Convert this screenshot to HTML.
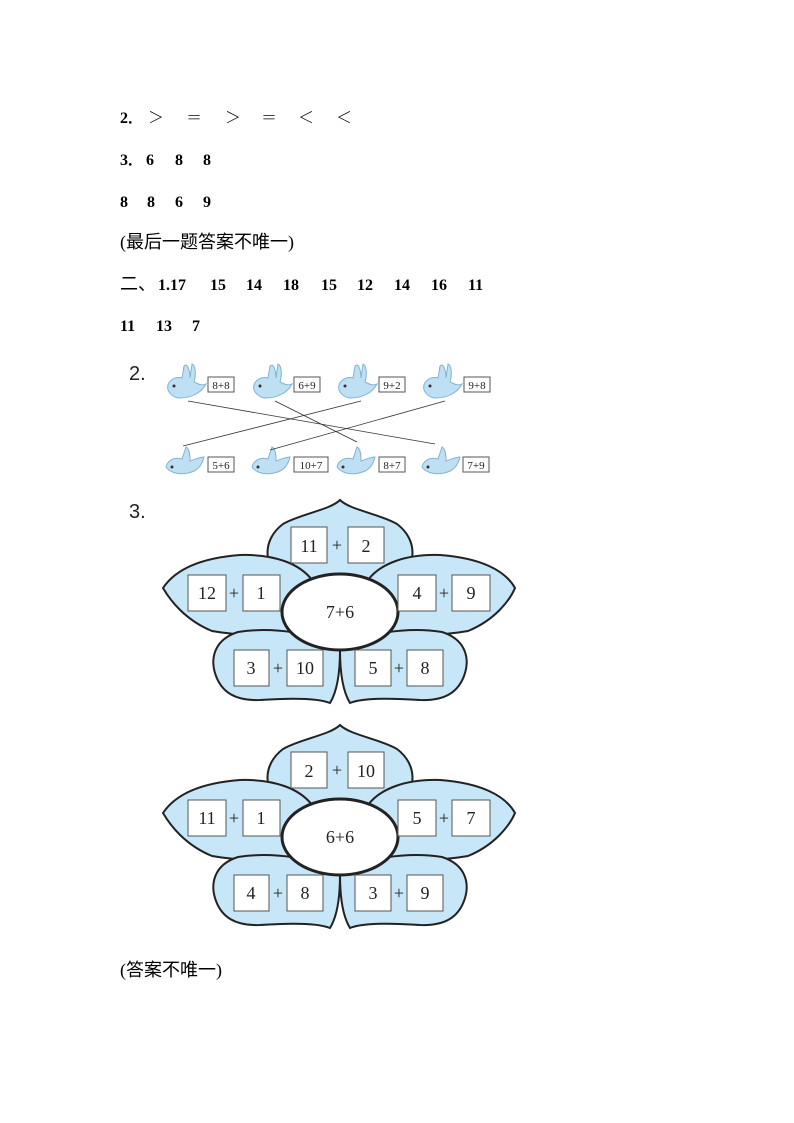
<!DOCTYPE html>
<html><head><meta charset="utf-8"><style>
html,body{margin:0;padding:0;background:#fff;}
body{width:794px;height:1123px;position:relative;overflow:hidden;}
svg{position:absolute;left:0;top:0;}
.t{font-family:"Liberation Serif","Noto Serif CJK SC",serif;font-size:16px;font-weight:bold;fill:#000;}
.c{font-family:"Liberation Serif","Noto Sans CJK SC",sans-serif;font-size:18px;fill:#000;}
.n{font-family:"Liberation Serif",serif;font-size:18px;fill:#222;text-anchor:middle;}
.s{font-family:"Liberation Serif",serif;font-size:11px;fill:#222;text-anchor:middle;}
</style></head><body>
<svg width="794" height="1123" viewBox="0 0 794 1123">
<defs>
<g id="bird1">
<path d="M-12,10 C-14,2 -6,-4 2,-2 L4,-14 C8,-18 10,-8 10,-2 L12,-16 C16,-14 16,-4 14,2 C18,4 22,6 26,4 C22,12 12,18 0,18 C-6,18 -10,14 -12,10Z" fill="#bfe0f2" stroke="#7fb3d5" stroke-width="1"/>
<circle cx="-6" cy="6" r="1.5" fill="#333"/>
</g>
<g id="bird2">
<path d="M-14,12 C-12,4 -4,2 2,4 L6,-8 C10,-6 10,2 10,6 C16,4 20,2 24,2 C22,10 18,16 8,18 C0,20 -10,18 -14,12Z" fill="#bfe0f2" stroke="#7fb3d5" stroke-width="1"/>
<circle cx="-8" cy="12" r="1.5" fill="#333"/>
</g>
<g id="petals">
<path d="M340,500 C330,510 300,514 283,524 C262,540 262,566 285,585 L395,585 C418,566 418,540 397,524 C380,514 350,510 340,500Z" fill="#c7e6f7" stroke="#222" stroke-width="2"/>
<path d="M163,588 C175,570 200,558 240,555 C275,554 300,564 312,580 L302,632 C270,636 240,636 212,631 C185,620 170,600 163,588Z" fill="#c7e6f7" stroke="#222" stroke-width="2"/>
<path d="M515,588 C505,570 480,558 440,555 C405,554 380,564 368,580 L378,632 C410,636 440,636 468,631 C495,620 510,600 515,588Z" fill="#c7e6f7" stroke="#222" stroke-width="2"/>
<path d="M340,650 C320,632 270,627 238,632 C213,640 210,660 216,676 C222,692 235,701 260,700 C290,698 318,698 330,703 C338,690 340,670 340,650Z" fill="#c7e6f7" stroke="#222" stroke-width="2"/>
<path d="M340,650 C360,632 410,627 442,632 C467,640 470,660 464,676 C458,692 445,701 420,700 C390,698 362,698 350,703 C342,690 340,670 340,650Z" fill="#c7e6f7" stroke="#222" stroke-width="2"/>
<ellipse cx="340" cy="612" rx="58" ry="38" fill="#fff" stroke="#222" stroke-width="3"/>
<g fill="#fff" stroke="#555" stroke-width="1">
<rect x="291" y="527" width="36" height="36"/><rect x="348" y="527" width="36" height="36"/>
<rect x="188" y="575" width="38" height="36"/><rect x="243" y="575" width="37" height="36"/>
<rect x="398" y="575" width="38" height="36"/><rect x="452" y="575" width="38" height="36"/>
<rect x="234" y="650" width="35" height="36"/><rect x="287" y="650" width="36" height="36"/>
<rect x="355" y="650" width="36" height="36"/><rect x="407" y="650" width="36" height="36"/>
</g>
<g class="n"><text x="337" y="551">+</text><text x="234" y="599">+</text><text x="444" y="599">+</text><text x="278" y="674">+</text><text x="399" y="674">+</text></g>
</g>
</defs>
<g class="t">
<text x="120" y="123">2．</text><text x="148" y="123">＞</text><text x="186" y="123">＝</text><text x="225" y="123">＞</text><text x="261" y="123">＝</text><text x="298" y="123">＜</text><text x="336" y="123">＜</text>
<text x="120" y="165">3．</text><text x="146" y="165">6</text><text x="175" y="165">8</text><text x="203" y="165">8</text>
<text x="120" y="207">8</text><text x="147" y="207">8</text><text x="175" y="207">6</text><text x="203" y="207">9</text>
<text x="158" y="290">1.17</text><text x="210" y="290">15</text><text x="246" y="290">14</text><text x="283" y="290">18</text><text x="321" y="290">15</text><text x="357" y="290">12</text><text x="394" y="290">14</text><text x="431" y="290">16</text><text x="468" y="290">11</text>
<text x="120" y="331">11</text><text x="156" y="331">13</text><text x="192" y="331">7</text>
</g>
<text class="c" x="120" y="248">(最后一题答案不唯一)</text>
<text class="c" x="120" y="290">二、</text>
<text x="129" y="380" font-family="Liberation Sans,sans-serif" font-size="20" fill="#222">2.</text>
<use href="#bird1" x="180" y="380"/><use href="#bird1" x="266" y="380"/><use href="#bird1" x="351" y="380"/><use href="#bird1" x="436" y="380"/>
<use href="#bird2" x="180" y="455"/><use href="#bird2" x="266" y="455"/><use href="#bird2" x="351" y="455"/><use href="#bird2" x="436" y="455"/>
<g fill="#fff" stroke="#555" stroke-width="1">
<rect x="208" y="377" width="26" height="15"/><rect x="294" y="377" width="26" height="15"/><rect x="379" y="377" width="26" height="15"/><rect x="464" y="377" width="26" height="15"/>
<rect x="208" y="457" width="26" height="15"/><rect x="294" y="457" width="34" height="15"/><rect x="379" y="457" width="26" height="15"/><rect x="463" y="457" width="26" height="15"/>
</g>
<g class="s">
<text x="221" y="389">8+8</text><text x="307" y="389">6+9</text><text x="392" y="389">9+2</text><text x="477" y="389">9+8</text>
<text x="221" y="469">5+6</text><text x="311" y="469">10+7</text><text x="392" y="469">8+7</text><text x="476" y="469">7+9</text>
</g>
<g stroke="#333" stroke-width="0.8">
<line x1="188" y1="401" x2="435" y2="444"/><line x1="275" y1="401" x2="357" y2="442"/><line x1="361" y1="401" x2="183" y2="446"/><line x1="445" y1="401" x2="270" y2="450"/>
</g>
<text x="129" y="518" font-family="Liberation Sans,sans-serif" font-size="20" fill="#222">3.</text>
<use href="#petals"/>
<g class="n"><text x="309" y="552">11</text><text x="366" y="552">2</text><text x="207" y="599">12</text><text x="261" y="599">1</text><text x="417" y="599">4</text><text x="471" y="599">9</text><text x="251" y="674">3</text><text x="305" y="674">10</text><text x="373" y="674">5</text><text x="425" y="674">8</text><text x="340" y="618">7+6</text></g>
<use href="#petals" y="225"/>
<g class="n"><text x="309" y="777">2</text><text x="366" y="777">10</text><text x="207" y="824">11</text><text x="261" y="824">1</text><text x="417" y="824">5</text><text x="471" y="824">7</text><text x="251" y="899">4</text><text x="305" y="899">8</text><text x="373" y="899">3</text><text x="425" y="899">9</text><text x="340" y="843">6+6</text></g>
<text class="c" x="120" y="976">(答案不唯一)</text>
</svg>
</body></html>
